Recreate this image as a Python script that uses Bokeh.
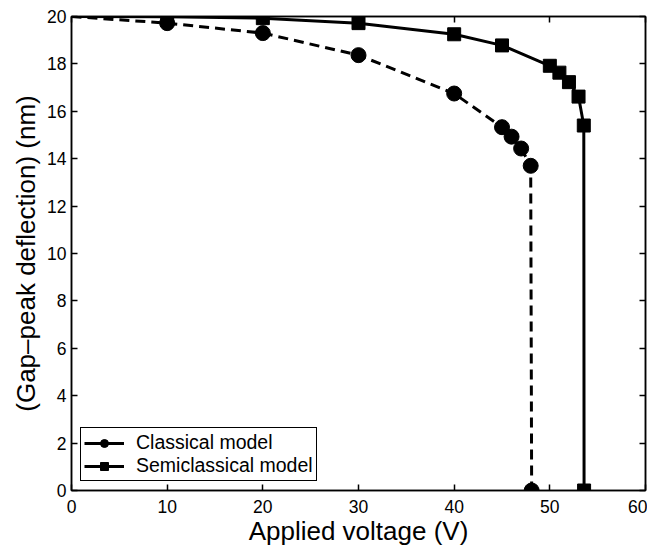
from bokeh.plotting import figure
from bokeh.models import LinearAxis, Range1d, FixedTicker, Legend, LegendItem
from bokeh.embed import file_html
from bokeh.resources import INLINE

# Data
classical_v = [0, 10, 20, 30, 40, 45, 46, 47, 48, 48.1]
classical_d = [20, 19.72, 19.3, 18.37, 16.75, 15.33, 14.93, 14.43, 13.7, 0]
semi_v = [0, 10, 20, 30, 40, 45, 50, 51, 52, 53, 53.55, 53.58]
semi_d = [20, 19.99, 19.93, 19.72, 19.25, 18.78, 17.92, 17.63, 17.23, 16.62, 15.4, 0]
x_ticks = [0, 10, 20, 30, 40, 50, 60]
y_ticks = [0, 2, 4, 6, 8, 10, 12, 14, 16, 18, 20]

FONT = "Liberation Sans"

p = figure(width=647, height=548, output_backend="svg", toolbar_location=None,
           x_range=Range1d(0, 60), y_range=Range1d(0, 20),
           min_border_left=71, min_border_right=2, min_border_top=16, min_border_bottom=50)
p.grid.visible = False
p.outline_line_color = "black"
p.outline_line_width = 1.5
p.background_fill_color = "white"
p.border_fill_color = "white"

for ax in [p.xaxis[0], p.yaxis[0]]:
    ax.major_tick_in = 6
    ax.major_tick_out = 0
    ax.minor_tick_line_color = None
    ax.axis_line_width = 1.5
    ax.major_tick_line_width = 1.5
    ax.major_label_text_font = FONT
    ax.major_label_text_font_size = "17.5px"
    ax.major_label_text_color = "black"
    ax.axis_label_text_font = FONT
    ax.axis_label_text_font_style = "normal"
    ax.axis_label_text_font_size = "26px"
    ax.axis_label_text_color = "black"

p.xaxis[0].ticker = FixedTicker(ticks=x_ticks)
p.yaxis[0].ticker = FixedTicker(ticks=y_ticks)
p.xaxis[0].axis_label = "Applied voltage (V)"
p.yaxis[0].axis_label = "(Gap\u2013peak deflection) (nm)"
p.xaxis[0].major_label_standoff = 9
p.yaxis[0].major_label_standoff = 5
p.xaxis[0].axis_label_standoff = 0
p.yaxis[0].axis_label_standoff = 3

# box axes on top and right: ticks only, no labels drawn
top = LinearAxis(ticker=FixedTicker(ticks=x_ticks), major_label_text_font_size="1px",
                 major_label_text_color=None,
                 major_tick_in=6, major_tick_out=0, minor_tick_line_color=None,
                 axis_line_width=1.5, major_tick_line_width=1.5)
right = LinearAxis(ticker=FixedTicker(ticks=y_ticks), major_label_text_font_size="1px",
                   major_label_text_color=None,
                   major_tick_in=6, major_tick_out=0, minor_tick_line_color=None,
                   axis_line_width=1.5, major_tick_line_width=1.5)
top.major_label_standoff = 0
right.major_label_standoff = 0
p.add_layout(top, "above")
p.add_layout(right, "right")

cl = p.line(classical_v, classical_d, line_color="black", line_width=3, line_dash="10 6")
cs = p.scatter(classical_v[1:], classical_d[1:], marker="circle", size=15,
               fill_color="black", line_color="black")
sl = p.line(semi_v, semi_d, line_color="black", line_width=3)
ss = p.scatter(semi_v[1:], semi_d[1:], marker="square", size=13,
               fill_color="black", line_color="black")

# legend proxy: the reference legend draws a short solid stroke for both series
nan = float("nan")
proxy = p.line(x=[nan], y=[nan], line_color="black", line_width=3)

legend = Legend(items=[LegendItem(label="Classical model", renderers=[proxy, cs]),
                       LegendItem(label="Semiclassical model", renderers=[sl, ss])],
                location="bottom_left")
legend.label_text_font = FONT
legend.label_text_font_size = "19.5px"
legend.label_text_color = "black"
legend.border_line_color = "black"
legend.border_line_alpha = 1.0
legend.border_line_width = 1.5
legend.background_fill_alpha = 1.0
legend.glyph_width = 40
legend.glyph_height = 20
legend.label_height = 20
legend.spacing = 0
legend.padding = 3
legend.margin = 9
legend.label_standoff = 12
p.add_layout(legend)

open("out.html", "w").write(file_html(p, INLINE))
